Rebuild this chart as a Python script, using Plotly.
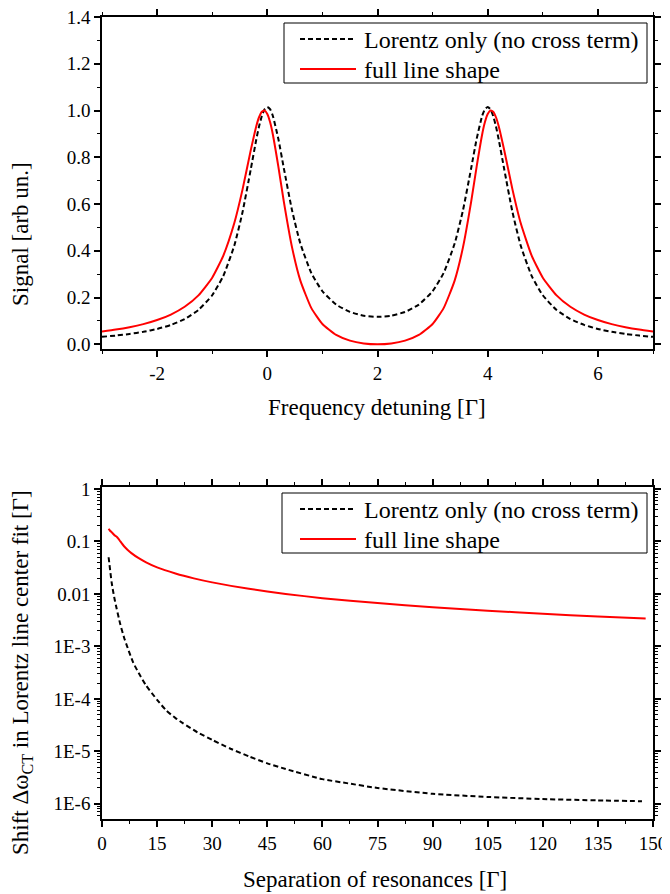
import plotly.graph_objects as go

# ---------------- data: top panel (signal vs detuning) ----------------
detuning = [-3, -2.75, -2.5, -2.25, -2, -1.75, -1.5, -1.25, -1, -0.8, -0.6, -0.45, -0.3, -0.2,
            -0.15, -0.1, -0.05, 0, 0.05, 0.1, 0.2, 0.3, 0.45, 0.6, 0.8, 1.0, 1.25, 1.5, 1.75,
            2.0,
            2.25, 2.5, 2.75, 3.0, 3.2, 3.4, 3.55, 3.7, 3.8, 3.9, 3.95, 4.0, 4.05, 4.1, 4.15,
            4.2, 4.3, 4.45, 4.6, 4.8, 5.0, 5.25, 5.5, 5.75, 6.0, 6.25, 6.5, 6.75, 7.0]

lorentz_only_signal = [0.0321, 0.0375, 0.0443, 0.0534, 0.0657, 0.0830, 0.1082, 0.1469, 0.2099,
                       0.2916, 0.4215, 0.5650, 0.7486, 0.8760, 0.9317, 0.9762, 1.0051, 1.0154,
                       1.0059, 0.9777, 0.8791, 0.7532, 0.5719, 0.4310, 0.3047, 0.2270, 0.1699,
                       0.1385, 0.1225,
                       0.1176,
                       0.1225, 0.1385, 0.1699, 0.2270, 0.3047, 0.4310, 0.5719, 0.7532, 0.8791,
                       0.9777, 1.0059, 1.0154, 1.0051, 0.9762, 0.9317, 0.8760, 0.7486, 0.5650,
                       0.4215, 0.2916, 0.2099, 0.1469, 0.1082, 0.0830, 0.0657, 0.0534, 0.0443,
                       0.0375, 0.0321]

full_shape_signal = [0.0548, 0.0630, 0.0733, 0.0864, 0.1038, 0.1274, 0.1606, 0.2095, 0.2851,
                     0.3782, 0.5176, 0.6616, 0.8304, 0.9332, 0.9712, 0.9946, 0.9999, 0.9851,
                     0.9505, 0.8987, 0.7612, 0.6104, 0.4137, 0.2726, 0.1547, 0.0869, 0.0401,
                     0.0157, 0.0039,
                     0.0003,
                     0.0039, 0.0157, 0.0401, 0.0869, 0.1547, 0.2726, 0.4137, 0.6104, 0.7612,
                     0.8987, 0.9505, 0.9851, 0.9999, 0.9946, 0.9712, 0.9332, 0.8304, 0.6616,
                     0.5176, 0.3782, 0.2851, 0.2095, 0.1606, 0.1274, 0.1038, 0.0864, 0.0733,
                     0.0630, 0.0548]

top_y_ticks = [0.0, 0.2, 0.4, 0.6, 0.8, 1.0, 1.2, 1.4]
top_y_labels = ["0.0", "0.2", "0.4", "0.6", "0.8", "1.0", "1.2", "1.4"]
top_x_ticks = [-2, 0, 2, 4, 6]
top_x_labels = ["-2", "0", "2", "4", "6"]

# ---------------- data: bottom panel (shift vs separation) ----------------
separation_lorentz = [1.8, 2.2, 2.6, 3.0, 3.5, 4.0, 5.0, 6.0, 7.0, 8.5, 10, 12, 15, 17.5, 20, 22,
                      26, 30, 35, 40, 45, 50, 60, 67, 75, 90, 105, 120, 135, 147]
shift_lorentz = [0.050, 0.029, 0.017, 0.0115, 0.0075, 0.0052, 0.0026, 0.00148, 0.00093, 0.00049,
                 0.00031, 0.00018, 9.6e-5, 6.0e-5, 4.3e-5, 3.45e-5, 2.3e-5, 1.65e-5, 1.12e-5,
                 8.0e-6, 5.9e-6, 4.6e-6, 2.95e-6, 2.45e-6, 2.0e-6, 1.55e-6, 1.35e-6, 1.23e-6,
                 1.16e-6, 1.12e-6]

separation_full = [1.8, 2.2, 2.7, 3.2, 3.6, 4.0, 4.5, 5, 6, 7, 8, 10, 12, 15, 20, 25, 30, 40, 50,
                   60, 75, 90, 105, 120, 135, 148]
shift_full = [0.175, 0.160, 0.148, 0.136, 0.128, 0.123, 0.112, 0.100, 0.081, 0.069, 0.060, 0.048,
              0.040, 0.032, 0.0245, 0.0198, 0.0166, 0.0125, 0.0100, 0.0083, 0.0067, 0.0056,
              0.0048, 0.0042, 0.0037, 0.0034]

bottom_y_ticks = [1, 0.1, 0.01, 1e-3, 1e-4, 1e-5, 1e-6]
bottom_y_labels = ["1", "0.1", "0.01", "1E-3", "1E-4", "1E-5", "1E-6"]
bottom_x_ticks = [0, 15, 30, 45, 60, 75, 90, 105, 120, 135, 150]

series_names = ["Lorentz only (no cross term)", "full line shape"]

# ---------------- figure geometry (page body has an 8px margin) ----------------
OFF = 8
FW, FH = 670, 894 - OFF


def px(x):
    return (x - OFF) / FW


def py(y):
    return 1 - (y - OFF) / FH


FONT = "Liberation Serif"
TICKF = dict(family=FONT, size=19, color="black")
BLACK_DASH = "5px,3px"
RED = "#ff0000"

fig = go.Figure()

black_line = dict(color="black", width=2, dash=BLACK_DASH, shape="spline", smoothing=0.5)
red_line = dict(color=RED, width=2, shape="spline", smoothing=0.5)

fig.add_trace(go.Scatter(x=detuning, y=lorentz_only_signal, mode="lines", name=series_names[0],
                         line=black_line, xaxis="x", yaxis="y"))
fig.add_trace(go.Scatter(x=detuning, y=full_shape_signal, mode="lines", name=series_names[1],
                         line=red_line, xaxis="x", yaxis="y"))
fig.add_trace(go.Scatter(x=separation_lorentz, y=shift_lorentz, mode="lines", name=series_names[0],
                         line=black_line, xaxis="x2", yaxis="y2"))
fig.add_trace(go.Scatter(x=separation_full, y=shift_full, mode="lines", name=series_names[1],
                         line=red_line, xaxis="x2", yaxis="y2"))

xdom = [px(102), px(653)]
top_dom = [py(349), py(17)]
bot_dom = [py(819), py(487)]

axis_common = dict(showline=True, linecolor="black", linewidth=1.5, mirror="ticks",
                   ticks="outside", ticklen=6, tickwidth=1.5, tickcolor="black",
                   showgrid=False, zeroline=False, tickfont=TICKF, automargin=False,
                   ticklabeloverflow="allow")

log_minor_vals = [k * 10.0 ** e for e in range(-7, 1) for k in range(2, 10)]
minor_common = dict(ticks="outside", ticklen=3, tickwidth=1.2, tickcolor="black", showgrid=False)

fig.update_layout(
    template="none",
    width=FW, height=FH,
    margin=dict(l=0, r=0, t=0, b=0, pad=0),
    paper_bgcolor="white", plot_bgcolor="white",
    font=dict(family=FONT, color="black"),
    showlegend=False,
    xaxis=dict(domain=xdom, anchor="y", range=[-3, 7], tickmode="array",
               tickvals=top_x_ticks, ticktext=top_x_labels,
               minor=dict(tickmode="linear", tick0=-3, dtick=1, **minor_common),
               **axis_common),
    yaxis=dict(domain=top_dom, anchor="x", range=[-0.02, 1.4], tickmode="array",
               tickvals=top_y_ticks, ticktext=top_y_labels,
               minor=dict(tickmode="linear", tick0=0, dtick=0.1, **minor_common),
               **axis_common),
    xaxis2=dict(domain=xdom, anchor="y2", range=[0, 150], tickmode="array",
                tickvals=bottom_x_ticks, ticktext=[str(v) for v in bottom_x_ticks],
                minor=dict(tickmode="linear", tick0=0, dtick=7.5, **minor_common),
                **axis_common),
    yaxis2=dict(domain=bot_dom, anchor="x2", type="log", range=[-6.29, 0.038], tickmode="array",
                tickvals=bottom_y_ticks, ticktext=bottom_y_labels,
                minor=dict(tickmode="array", tickvals=log_minor_vals, **minor_common),
                **axis_common),
)

# ---------------- legends (boxed, drawn as in the reference) ----------------
legend_font = dict(family=FONT, size=24, color="black")
for box_left, box_top in [(284, 23), (282, 493)]:
    fig.add_shape(type="rect", xref="paper", yref="paper",
                  x0=px(box_left), x1=px(647), y0=py(box_top + 60), y1=py(box_top),
                  line=dict(color="black", width=1), fillcolor="white", layer="above")
    rows = [(box_top + 16, dict(color="black", width=2, dash=BLACK_DASH), series_names[0]),
            (box_top + 46, dict(color=RED, width=2), series_names[1])]
    for row_y, ln, label in rows:
        fig.add_shape(type="line", xref="paper", yref="paper",
                      x0=px(300), x1=px(356), y0=py(row_y), y1=py(row_y), line=ln, layer="above")
        fig.add_annotation(text=label, x=px(362), y=py(row_y + 1), xref="paper", yref="paper",
                           showarrow=False, xanchor="left", yanchor="middle", font=legend_font)

# ---------------- axis titles ----------------
title_font = dict(family=FONT, size=23, color="black")
fig.add_annotation(text="Signal [arb un.]", x=px(21), y=py(234), xref="paper", yref="paper",
                   textangle=-90, showarrow=False, xanchor="center", yanchor="middle",
                   font=title_font)
fig.add_annotation(text="Frequency detuning [Γ]", x=px(377), y=py(407), xref="paper",
                   yref="paper", showarrow=False, xanchor="center", yanchor="middle",
                   font=title_font)
fig.add_annotation(text="Shift Δω<sub>CT</sub> in Lorentz line center fit [Γ]", x=px(22),
                   y=py(673), xref="paper", yref="paper", textangle=-90, showarrow=False,
                   xanchor="center", yanchor="middle", font=title_font)
fig.add_annotation(text="Separation of resonances [Γ]", x=px(375), y=py(879), xref="paper",
                   yref="paper", showarrow=False, xanchor="center", yanchor="middle",
                   font=title_font)

fig.write_html("out.html")
